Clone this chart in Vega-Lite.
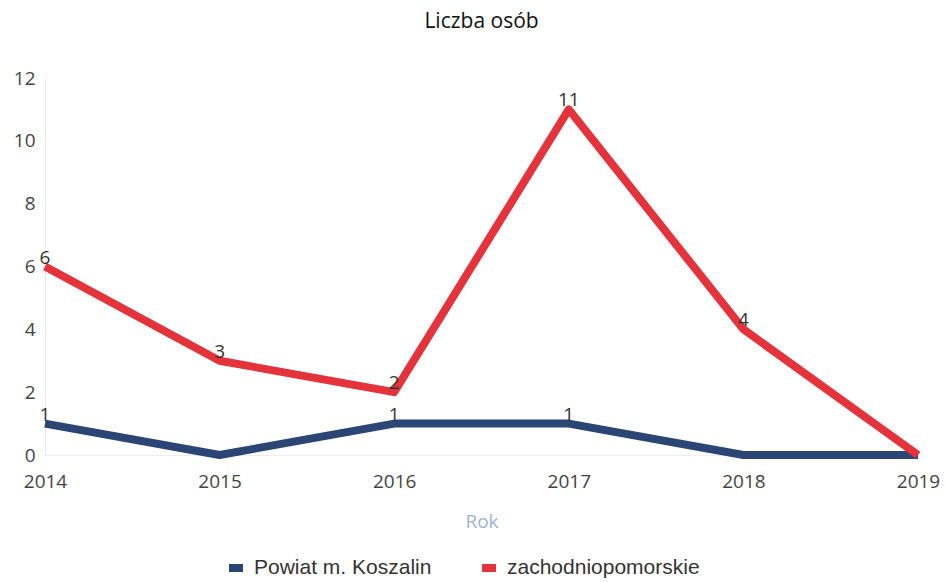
{
  "$schema": "https://vega.github.io/schema/vega-lite/v6.json",
  "width": 873,
  "height": 377,
  "autosize": {"type": "none"},
  "padding": {"left": 45, "top": 78, "right": 27, "bottom": 127},
  "background": "white",
  "config": {
    "font": "Open Sans",
    "view": {"stroke": null}
  },
  "title": {
    "text": "Liczba osób",
    "fontSize": 21,
    "fontWeight": 500,
    "color": "#111111",
    "anchor": "middle",
    "offset": 37
  },
  "data": {
    "values": [
      {"Rok": "2014", "Seria": "Powiat m. Koszalin", "Wartosc": 1},
      {"Rok": "2015", "Seria": "Powiat m. Koszalin", "Wartosc": 0},
      {"Rok": "2016", "Seria": "Powiat m. Koszalin", "Wartosc": 1},
      {"Rok": "2017", "Seria": "Powiat m. Koszalin", "Wartosc": 1},
      {"Rok": "2018", "Seria": "Powiat m. Koszalin", "Wartosc": 0},
      {"Rok": "2019", "Seria": "Powiat m. Koszalin", "Wartosc": 0},
      {"Rok": "2014", "Seria": "zachodniopomorskie", "Wartosc": 6},
      {"Rok": "2015", "Seria": "zachodniopomorskie", "Wartosc": 3},
      {"Rok": "2016", "Seria": "zachodniopomorskie", "Wartosc": 2},
      {"Rok": "2017", "Seria": "zachodniopomorskie", "Wartosc": 11},
      {"Rok": "2018", "Seria": "zachodniopomorskie", "Wartosc": 4},
      {"Rok": "2019", "Seria": "zachodniopomorskie", "Wartosc": 0}
    ]
  },
  "encoding": {
    "x": {
      "field": "Rok",
      "type": "ordinal",
      "scale": {"type": "point", "padding": 0},
      "axis": {
        "title": "Rok",
        "titleColor": "#9fb4cc",
        "titleFontSize": 19,
        "titleFontWeight": "normal",
        "titlePadding": 21,
        "labelAngle": 0,
        "labelFontSize": 19,
        "labelColor": "#444444",
        "labelPadding": 17,
        "ticks": false,
        "domain": true,
        "domainColor": "#eeeeee",
        "grid": false
      }
    },
    "y": {
      "field": "Wartosc",
      "type": "quantitative",
      "scale": {"domain": [0, 12], "nice": false},
      "axis": {
        "title": null,
        "values": [0, 2, 4, 6, 8, 10, 12],
        "labelFontSize": 19,
        "labelColor": "#444444",
        "labelPadding": 10,
        "ticks": false,
        "domain": true,
        "domainColor": "#e6e6e6",
        "grid": false
      }
    }
  },
  "layer": [
    {
      "mark": {"type": "line", "strokeWidth": 8, "strokeJoin": "round"},
      "encoding": {
        "color": {
          "field": "Seria",
          "type": "nominal",
          "scale": {
            "domain": ["Powiat m. Koszalin", "zachodniopomorskie"],
            "range": ["#2b4574", "#e5333c"]
          },
          "legend": {
            "title": null,
            "orient": "none",
            "direction": "horizontal",
            "legendX": 180,
            "legendY": 479,
            "symbolType": "stroke",
            "symbolSize": 196,
            "symbolStrokeWidth": 8,
            "labelFont": "Liberation Sans",
            "labelFontSize": 21,
            "labelColor": "#333333",
            "labelLimit": 400,
            "columnPadding": 34,
            "labelOffset": 7
          }
        }
      }
    },
    {
      "transform": [{"filter": "datum.Wartosc > 0"}],
      "mark": {
        "type": "text",
        "baseline": "bottom",
        "dy": 1,
        "fontSize": 19,
        "fill": "#333333"
      },
      "encoding": {
        "text": {"field": "Wartosc", "type": "quantitative"}
      }
    }
  ]
}
